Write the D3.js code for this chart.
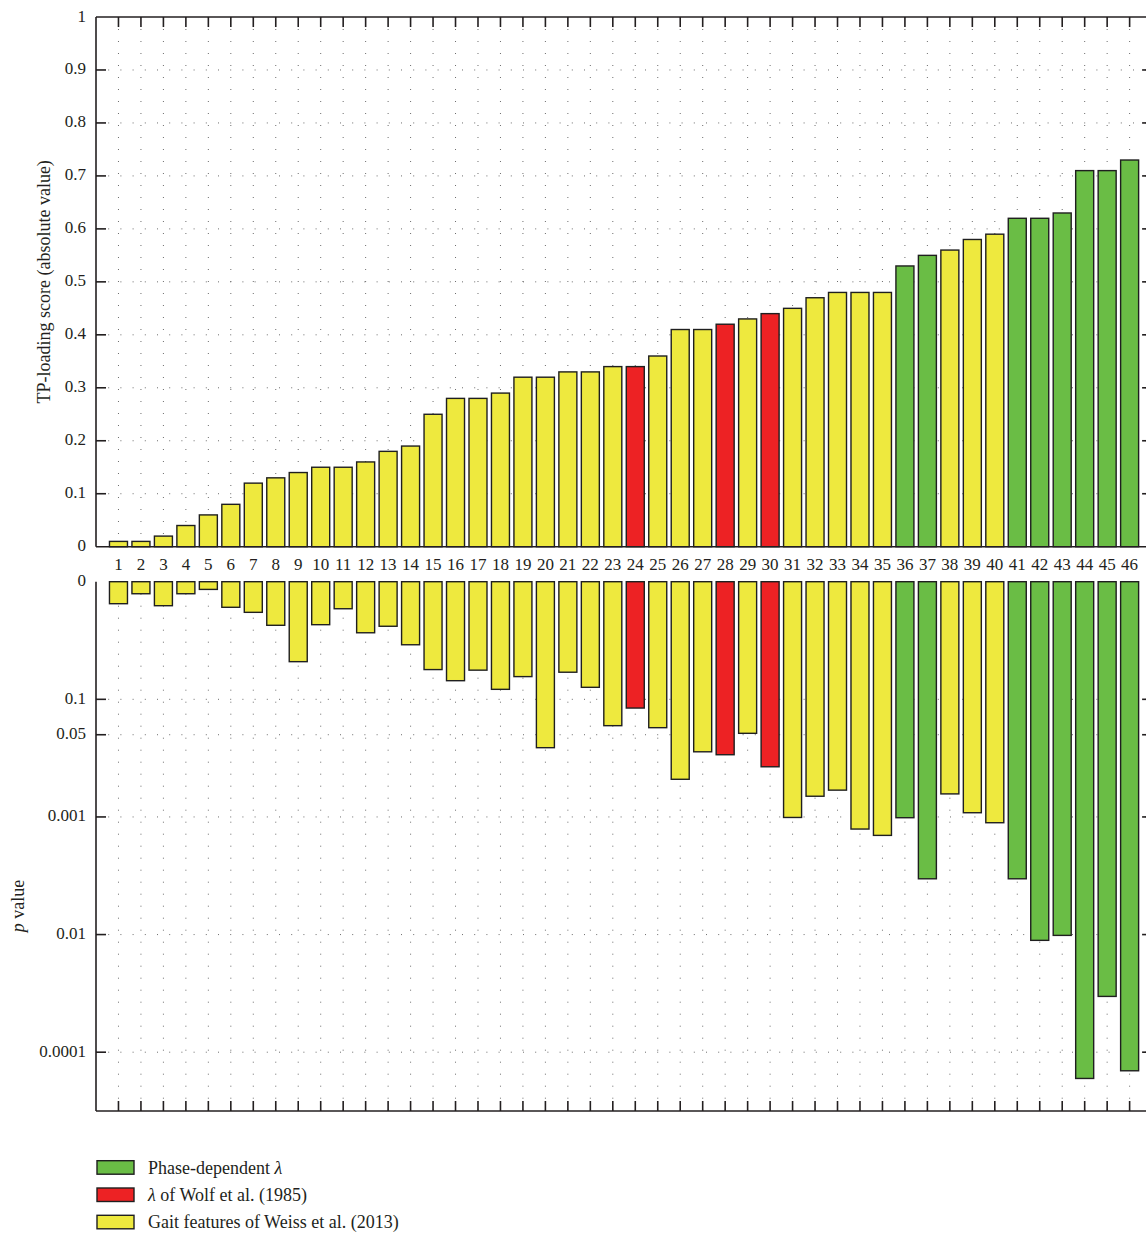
<!DOCTYPE html>
<html>
<head>
<meta charset="utf-8">
<script src="https://cdn.jsdelivr.net/npm/d3@7"></script>
<style>
  body { margin: 0; background: #fff; }
  text { font-family: "Liberation Serif", "DejaVu Serif", serif; fill: #231f20; }
</style>
</head>
<body>
<svg id="chart" width="1146" height="1235"></svg>
<script>
// Feature numbers along the horizontal axis
const features = d3.range(1, 47);

// Feature groups (by feature number)
const phaseDependentFeatures = [36, 37, 41, 42, 43, 44, 45, 46];
const wolfFeatures = [24, 28, 30];

// TP-loading score (absolute value) per feature
const loadings = [
  0.01, 0.01, 0.02, 0.04, 0.06, 0.08, 0.12, 0.13, 0.14, 0.15,
  0.15, 0.16, 0.18, 0.19, 0.25, 0.28, 0.28, 0.29, 0.32, 0.32,
  0.33, 0.33, 0.34, 0.34, 0.36, 0.41, 0.41, 0.42, 0.43, 0.44,
  0.45, 0.47, 0.48, 0.48, 0.48, 0.53, 0.55, 0.56, 0.58, 0.59,
  0.62, 0.62, 0.63, 0.71, 0.71, 0.73
];

// p value per feature (log axis)
const pValues = [
  0.65, 0.79, 0.625, 0.79, 0.86, 0.606, 0.549, 0.426, 0.209, 0.431,
  0.589, 0.368, 0.418, 0.291, 0.179, 0.144, 0.177, 0.1216, 0.156, 0.0388,
  0.170, 0.1265, 0.0597, 0.0843, 0.0574, 0.0209, 0.0358, 0.0338, 0.0514, 0.0267,
  0.0099, 0.0150, 0.0169, 0.00789, 0.00697, 0.00985, 0.00298, 0.0157, 0.01086, 0.00893,
  0.00298, 0.000893, 0.000984, 0.0000598, 0.000298, 0.0000695
];

const loadingTicks = [0, 0.1, 0.2, 0.3, 0.4, 0.5, 0.6, 0.7, 0.8, 0.9, 1];
const loadingTickLabels = ["0", "0.1", "0.2", "0.3", "0.4", "0.5", "0.6", "0.7", "0.8", "0.9", "1"];
const pTicks = [1, 0.1, 0.05, 0.01, 0.001, 0.0001];
const pTickLabels = ["0", "0.1", "0.05", "0.001", "0.01", "0.0001"];

const groupNames = ["phase", "wolf", "weiss"];
const groupColors = ["#6abd45", "#ed2224", "#eee93e"];

const groupOf = f => phaseDependentFeatures.includes(f) ? "phase"
                   : wolfFeatures.includes(f) ? "wolf" : "weiss";
const color = d3.scaleOrdinal().domain(groupNames).range(groupColors);

const rows = features.map((f, i) => ({ f, loading: loadings[i], p: pValues[i], g: groupOf(f) }));

const svg = d3.select("#chart");

// Shared horizontal scale: feature positions
const left = 96, step = 22.47;
const x = d3.scaleLinear().domain([0, 47]).range([left, left + 47 * step]);
const xRight = x(47);
const barW = 18;

// Upper panel: loading scores
const yTop = d3.scaleLinear().domain([0, 1]).range([546.7, 17]);
// Lower panel: p values on a log scale, drawn downward
const yBot = d3.scaleLog().domain([1, Math.pow(10, -4.5)]).range([581.7, 1111]);

const gridColor = "#6d6d6d";
const tickLen = 10;
const axisColor = "#231f20";

function dottedV(g, x0, y0, y1) {
  g.append("line").attr("x1", x0).attr("x2", x0).attr("y1", y0).attr("y2", y1)
    .attr("stroke", gridColor).attr("stroke-width", 1).attr("stroke-dasharray", "1,11");
}
function dottedH(g, y0) {
  g.append("line").attr("x1", left).attr("x2", xRight).attr("y1", y0).attr("y2", y0)
    .attr("stroke", gridColor).attr("stroke-width", 1).attr("stroke-dasharray", "1,11.2");
}

// ---------- grids ----------
const grid = svg.append("g");
features.forEach(f => {
  dottedV(grid, x(f), yTop(1), yTop(0));
  dottedV(grid, x(f), yBot.range()[0], yBot.range()[1]);
});
loadingTicks.slice(1, -1).forEach(t => dottedH(grid, yTop(t)));
pTicks.slice(1).forEach(t => dottedH(grid, yBot(t)));

// ---------- bars ----------
svg.append("g").selectAll("rect").data(rows).join("rect")
  .attr("x", d => x(d.f) - barW / 2)
  .attr("y", d => yTop(d.loading))
  .attr("width", barW)
  .attr("height", d => yTop(0) - yTop(d.loading))
  .attr("fill", d => color(d.g))
  .attr("stroke", "#1f1f1f").attr("stroke-width", 1.4);

svg.append("g").selectAll("rect").data(rows).join("rect")
  .attr("x", d => x(d.f) - barW / 2)
  .attr("y", yBot(1))
  .attr("width", barW)
  .attr("height", d => yBot(d.p) - yBot(1))
  .attr("fill", d => color(d.g))
  .attr("stroke", "#1f1f1f").attr("stroke-width", 1.4);

// ---------- axes ----------
const axes = svg.append("g").attr("stroke", axisColor).attr("stroke-width", 1.6).attr("fill", "none");
// upper frame
axes.append("line").attr("x1", left).attr("x2", left).attr("y1", yTop(1)).attr("y2", yTop(0));
axes.append("line").attr("x1", left).attr("x2", xRight).attr("y1", yTop(1)).attr("y2", yTop(1));
axes.append("line").attr("x1", left).attr("x2", xRight).attr("y1", yTop(0)).attr("y2", yTop(0));
axes.append("line").attr("x1", xRight).attr("x2", xRight).attr("y1", yTop(1)).attr("y2", yTop(0));
// lower frame
axes.append("line").attr("x1", left).attr("x2", left).attr("y1", yBot(1)).attr("y2", yBot.range()[1]);
axes.append("line").attr("x1", left).attr("x2", xRight).attr("y1", yBot.range()[1]).attr("y2", yBot.range()[1]);
axes.append("line").attr("x1", xRight).attr("x2", xRight).attr("y1", yBot(1)).attr("y2", yBot.range()[1]);

// category ticks: top edge of upper panel, bottom edge of lower panel
features.forEach(f => {
  axes.append("line").attr("x1", x(f)).attr("x2", x(f)).attr("y1", yTop(1)).attr("y2", yTop(1) + tickLen);
  axes.append("line").attr("x1", x(f)).attr("x2", x(f))
    .attr("y1", yBot.range()[1]).attr("y2", yBot.range()[1] - tickLen);
});
// value ticks on both sides
loadingTicks.slice(1, -1).forEach(t => {
  axes.append("line").attr("x1", left).attr("x2", left + tickLen).attr("y1", yTop(t)).attr("y2", yTop(t));
  axes.append("line").attr("x1", xRight - tickLen).attr("x2", xRight).attr("y1", yTop(t)).attr("y2", yTop(t));
});
pTicks.slice(1).forEach(t => {
  axes.append("line").attr("x1", left).attr("x2", left + tickLen).attr("y1", yBot(t)).attr("y2", yBot(t));
  axes.append("line").attr("x1", xRight - tickLen).attr("x2", xRight).attr("y1", yBot(t)).attr("y2", yBot(t));
});

// ---------- labels ----------
const fs = 17, fsTitle = 18;
svg.append("g").selectAll("text").data(loadingTicks).join("text")
  .attr("x", 86).attr("y", d => yTop(d) - 1)
  .attr("text-anchor", "end").attr("dominant-baseline", "central")
  .attr("font-size", fs)
  .text((d, i) => loadingTickLabels[i]);

svg.append("g").selectAll("text").data(pTicks).join("text")
  .attr("x", 86).attr("y", d => yBot(d) - 1)
  .attr("text-anchor", "end").attr("dominant-baseline", "central")
  .attr("font-size", fs)
  .text((d, i) => pTickLabels[i]);

svg.append("g").selectAll("text").data(features).join("text")
  .attr("x", d => x(d)).attr("y", 570)
  .attr("text-anchor", "middle").attr("font-size", fs)
  .text(d => d);

svg.append("text")
  .attr("transform", `translate(44, ${(yTop(0) + yTop(1)) / 2 + 0}) rotate(-90)`)
  .attr("text-anchor", "middle").attr("dominant-baseline", "central")
  .attr("font-size", fsTitle)
  .text("TP-loading score (absolute value)");

const pTitle = svg.append("text")
  .attr("transform", "translate(18, 906) rotate(-90)")
  .attr("text-anchor", "middle").attr("dominant-baseline", "central")
  .attr("font-size", fsTitle);
pTitle.append("tspan").attr("font-style", "italic").text("p");
pTitle.append("tspan").text(" value");

// ---------- legend ----------
const legendItems = [
  { g: "phase", parts: [["Phase-dependent ", "normal"], ["λ", "italic"]] },
  { g: "wolf", parts: [["λ", "italic"], [" of Wolf et al. (1985)", "normal"]] },
  { g: "weiss", parts: [["Gait features of Weiss et al. (2013)", "normal"]] }
];
const legend = svg.append("g");
legendItems.forEach((it, i) => {
  const y0 = 1160.7 + i * 27.3;
  legend.append("rect").attr("x", 97).attr("y", y0).attr("width", 37).attr("height", 13.5)
    .attr("fill", color(it.g)).attr("stroke", "#1f1f1f").attr("stroke-width", 1.4);
  const t = legend.append("text").attr("x", 148).attr("y", y0 + 13).attr("font-size", fsTitle);
  it.parts.forEach(([s, st]) => t.append("tspan").attr("font-style", st).text(s));
});
</script>
</body>
</html>
